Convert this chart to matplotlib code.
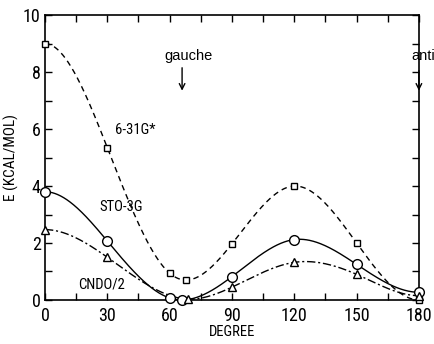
import numpy as np
import matplotlib
matplotlib.use("Agg")
import matplotlib.pyplot as plt
from matplotlib.ticker import MultipleLocator
from matplotlib import font_manager as fm

# Rotational energy profiles (kcal/mol) vs dihedral angle (degrees)
deg_631g = [0, 30, 60, 68, 90, 120, 150, 180]
e_631g = [9.0, 5.35, 0.94, 0.70, 1.97, 4.0, 2.0, 0.0]

deg_sto = [0, 30, 60, 66, 90, 120, 150, 180]
e_sto = [3.8, 2.07, 0.07, 0.0, 0.82, 2.12, 1.25, 0.27]

deg_cndo = [0, 30, 69, 90, 120, 150, 180]
e_cndo = [2.47, 1.5, 0.03, 0.45, 1.32, 0.9, 0.15]

x_ticks = [0, 30, 60, 90, 120, 150, 180]
y_ticks = [0, 2, 4, 6, 8, 10]

# narrow face for numbers and axis captions
available = {f.name for f in fm.fontManager.ttflist}
NARROW = next((n for n in ["Roboto Condensed", "Archivo Narrow", "PT Sans Narrow",
                           "Liberation Sans Narrow", "Fira Sans Condensed",
                           "IBM Plex Sans Condensed", "Barlow Condensed",
                           "Encode Sans Condensed", "Liberation Sans"]
               if n in available), "DejaVu Sans")
PLAIN = "Liberation Sans"


def clamped_spline(x, y, xs):
    """Cubic spline through (x, y) with zero slope at both ends."""
    x = np.asarray(x, float)
    y = np.asarray(y, float)
    n = len(x)
    h = np.diff(x)
    A = np.zeros((n, n))
    b = np.zeros(n)
    A[0, 0], A[0, 1] = 2 * h[0], h[0]
    b[0] = 6 * ((y[1] - y[0]) / h[0])
    for i in range(1, n - 1):
        A[i, i - 1] = h[i - 1]
        A[i, i] = 2 * (h[i - 1] + h[i])
        A[i, i + 1] = h[i]
        b[i] = 6 * ((y[i + 1] - y[i]) / h[i] - (y[i] - y[i - 1]) / h[i - 1])
    A[-1, -2], A[-1, -1] = h[-1], 2 * h[-1]
    b[-1] = 6 * (0 - (y[-1] - y[-2]) / h[-1])
    M = np.linalg.solve(A, b)
    idx = np.clip(np.searchsorted(x, xs) - 1, 0, n - 2)
    x0, x1 = x[idx], x[idx + 1]
    hh = x1 - x0
    return (M[idx] * (x1 - xs) ** 3 / (6 * hh)
            + M[idx + 1] * (xs - x0) ** 3 / (6 * hh)
            + (y[idx] / hh - M[idx] * hh / 6) * (x1 - xs)
            + (y[idx + 1] / hh - M[idx + 1] * hh / 6) * (xs - x0))


fig = plt.figure(figsize=(4.35, 3.44), dpi=100)
ax = fig.add_axes([0.1034, 0.128, 0.8596, 0.828])

xs = np.linspace(0, 180, 600)
series = [
    (deg_631g, e_631g, (0, (4, 3)), "s", 4.5),
    (deg_sto, e_sto, "-", "o", 7),
    (deg_cndo, e_cndo, (0, (6, 2, 1.5, 2)), "^", 6),
]
for d, e, ls, mk, ms in series:
    ax.plot(xs, clamped_spline(d, e, xs), color="black", lw=1.0, ls=ls)
    ax.plot(d, e, ls="none", marker=mk, ms=ms, mfc="white", mec="black",
            mew=1.0, clip_on=False, zorder=3)

ax.set_xlim(0, 180)
ax.set_ylim(0, 10)
ax.set_xticks(x_ticks)
ax.set_yticks(y_ticks)
ax.xaxis.set_minor_locator(MultipleLocator(15))
ax.yaxis.set_minor_locator(MultipleLocator(1))
ax.tick_params(which="both", direction="in", length=5, width=1,
               top=True, right=True, labelsize=13)
ax.tick_params(axis="x", pad=5)
ax.tick_params(axis="y", pad=3)
for lab in ax.get_xticklabels() + ax.get_yticklabels():
    lab.set_fontfamily(NARROW)
for s in ax.spines.values():
    s.set_linewidth(1.2)

ax.set_xlabel("DEGREE", fontsize=10.5, family=NARROW, labelpad=0)
ax.set_ylabel("E (KCAL/MOL)", fontsize=11, family=NARROW, labelpad=3)

ax.text(33.5, 5.96, "6-31G*", fontsize=10.5, family=NARROW, va="center")
ax.text(26.4, 3.26, "STO-3G", fontsize=10.5, family=NARROW, va="center")
ax.text(16, 0.53, "CNDO/2", fontsize=10.5, family=NARROW, va="center")

ax.text(69, 8.56, "gauche", fontsize=10.5, family=PLAIN, ha="center", va="center")
ax.annotate("", xy=(66, 7.25), xytext=(66, 8.25),
            arrowprops=dict(arrowstyle="->", color="black", lw=1))
ax.text(176.5, 8.55, "anti", fontsize=10.5, family=PLAIN, ha="left", va="center",
        clip_on=False)
ax.annotate("", xy=(180, 7.25), xytext=(180, 8.15),
            arrowprops=dict(arrowstyle="->", color="black", lw=1),
            annotation_clip=False)

fig.savefig("out.png", dpi=100)
